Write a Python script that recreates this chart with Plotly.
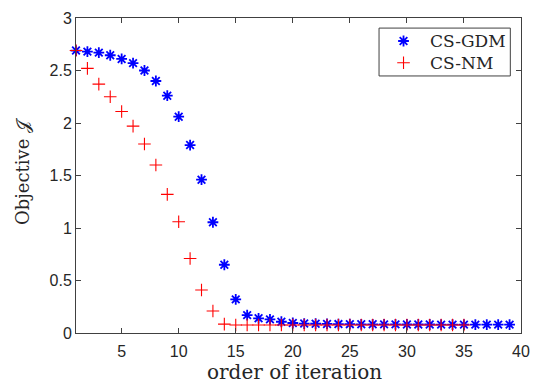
import plotly.graph_objects as go

# Objective value per iteration for each solver
iter_gdm = list(range(1, 40))
obj_gdm = [2.69, 2.68, 2.67, 2.645, 2.61, 2.57, 2.50, 2.40, 2.26, 2.06,
           1.79, 1.46, 1.055, 0.65, 0.32, 0.17, 0.14, 0.13, 0.107, 0.095,
           0.09, 0.088, 0.086, 0.085, 0.084, 0.083, 0.083, 0.082, 0.082, 0.081,
           0.081, 0.081, 0.08, 0.08, 0.08, 0.08, 0.08, 0.08, 0.08]

iter_nm = list(range(1, 36))
obj_nm = [2.69, 2.52, 2.37, 2.25, 2.11, 1.97, 1.80, 1.60, 1.32, 1.06,
          0.71, 0.41, 0.21, 0.085, 0.076, 0.076, 0.076, 0.076, 0.076, 0.076,
          0.076, 0.076, 0.076, 0.076, 0.076, 0.076, 0.076, 0.076, 0.076, 0.076,
          0.076, 0.076, 0.076, 0.076, 0.076]

series_names = ["CS-GDM", "CS-NM"]
x_ticks = [5, 10, 15, 20, 25, 30, 35, 40]
y_ticks = [0, 0.5, 1, 1.5, 2, 2.5, 3]

axis_color = "#404040"
text_color = "#262626"
serif = "DejaVu Serif"

gdm_marker = dict(symbol="asterisk-open", size=9, color="#0000ff",
                  line=dict(color="#0000ff", width=1.8))
nm_marker = dict(symbol="cross-thin-open", size=9, color="#ff0000",
                 line=dict(color="#ff0000", width=1.1))

fig = go.Figure()
fig.add_trace(go.Scatter(x=iter_gdm, y=obj_gdm, mode="markers", name=series_names[0],
                         marker=gdm_marker, cliponaxis=False))
fig.add_trace(go.Scatter(x=iter_nm, y=obj_nm, mode="markers", name=series_names[1],
                         marker=nm_marker, cliponaxis=False))

# Boxed legend in the upper right, drawn on a unit overlay axis
leg_x0, leg_x1, leg_y0, leg_y1 = 0.681, 0.976, 0.816, 0.968
sym_x, txt_x = 0.736, 0.791
row_y = [0.927, 0.858]

fig.add_shape(type="rect", xref="paper", yref="paper",
              x0=leg_x0, x1=leg_x1, y0=leg_y0, y1=leg_y1,
              line=dict(color=axis_color, width=1), fillcolor="white", layer="below")
for name, marker, yy in zip(series_names, [gdm_marker, nm_marker], row_y):
    fig.add_trace(go.Scatter(x=[sym_x], y=[yy], mode="markers", marker=marker,
                             xaxis="x2", yaxis="y2", showlegend=False, hoverinfo="skip",
                             cliponaxis=False))
    fig.add_annotation(text=name, xref="paper", yref="paper", x=txt_x, y=yy,
                       xanchor="left", yanchor="middle", showarrow=False,
                       font=dict(family=serif, size=17, color=text_color))

tick_font = dict(family="Liberation Sans", size=16, color=text_color)

fig.update_layout(
    width=540, height=387,
    margin=dict(l=76, r=10, t=17, b=54),
    paper_bgcolor="white", plot_bgcolor="white",
    showlegend=False,
    xaxis=dict(
        range=[1, 40], tickvals=x_ticks, ticks="inside", ticklen=5,
        tickcolor=axis_color, showline=True, linecolor=axis_color, linewidth=1,
        mirror="ticks", showgrid=False, zeroline=False, tickfont=tick_font,
        ticklabelstandoff=4,
    ),
    yaxis=dict(
        range=[0, 3], tickvals=y_ticks, ticktext=["0", "0.5", "1", "1.5", "2", "2.5", "3"],
        ticks="inside", ticklen=5,
        tickcolor=axis_color, showline=True, linecolor=axis_color, linewidth=1,
        mirror="ticks", showgrid=False, zeroline=False, tickfont=tick_font,
    ),
    xaxis2=dict(overlaying="x", range=[0, 1], visible=False, fixedrange=True),
    yaxis2=dict(overlaying="y", range=[0, 1], visible=False, fixedrange=True),
)

fig.add_annotation(text="order of iteration", xref="paper", yref="paper",
                   x=0.49, y=-0.166, xanchor="center", yanchor="bottom", showarrow=False,
                   borderpad=0, font=dict(family=serif, size=20, color=text_color))
fig.add_annotation(text="Objective 𝒥", textangle=-90, xref="paper", yref="paper",
                   x=-0.12, y=0.513, xanchor="center", yanchor="middle", showarrow=False,
                   font=dict(family=serif, size=18, color=text_color))

fig.write_html("out.html")
